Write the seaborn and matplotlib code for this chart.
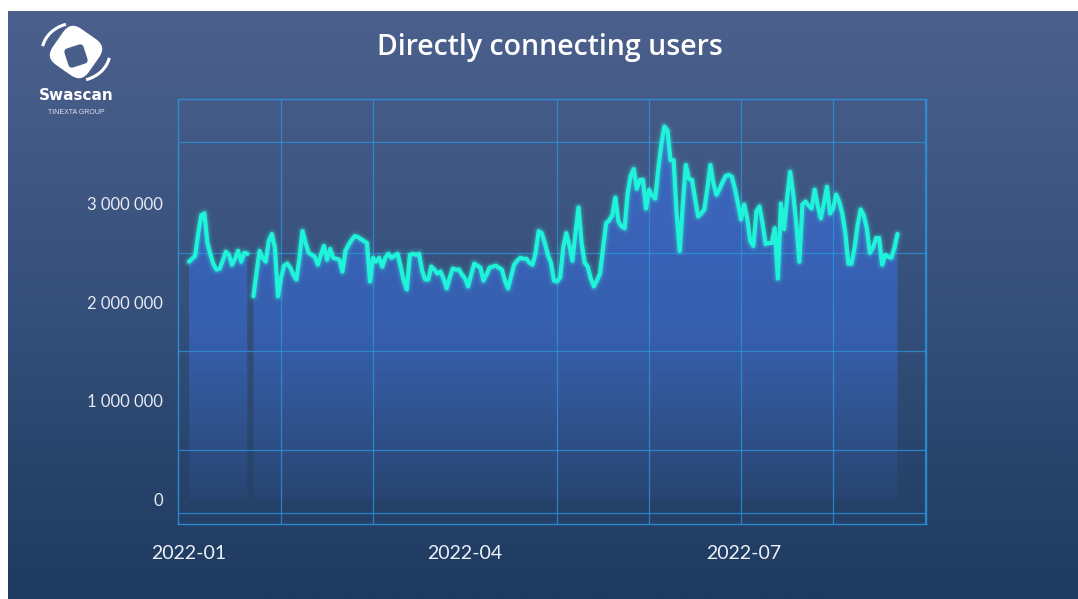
import numpy as np
import pandas as pd
import matplotlib
matplotlib.use("Agg")
import matplotlib.pyplot as plt
import matplotlib.dates as mdates
import matplotlib.ticker as mticker
from matplotlib.path import Path
from matplotlib.patches import FancyBboxPatch, Arc
from matplotlib.transforms import Affine2D
import seaborn as sns

# ---- data: daily directly-connecting users (millions), from 2022-01-01 ----
start_date = "2022-01-01"
users_mn = [
    2.41, 2.44, 2.47, 2.70, 2.88, 2.90, 2.60, 2.48, 2.38, 2.33,
    2.34, 2.42, 2.51, 2.48, 2.38, 2.44, 2.52, 2.41, 2.50, 2.49,
    np.nan, 2.06, 2.30, 2.52, 2.45, 2.41, 2.62, 2.69, 2.55, 2.06,
    2.25, 2.37, 2.39, 2.35, 2.28, 2.23, 2.45, 2.72, 2.60, 2.50,
    2.48, 2.46, 2.38, 2.48, 2.57, 2.43, 2.54, 2.45, 2.44, 2.43,
    2.31, 2.52, 2.58, 2.63, 2.67, 2.66, 2.64, 2.62, 2.60, 2.21,
    2.45, 2.41, 2.45, 2.36, 2.45, 2.49, 2.45, 2.47, 2.49, 2.36,
    2.22, 2.13, 2.48, 2.49, 2.48, 2.49, 2.32, 2.23, 2.23, 2.36,
    2.33, 2.29, 2.31, 2.24, 2.14, 2.25, 2.34, 2.33, 2.33, 2.28,
    2.24, 2.16, 2.28, 2.39, 2.37, 2.35, 2.22, 2.28, 2.35, 2.36,
    2.37, 2.35, 2.33, 2.22, 2.14, 2.26, 2.38, 2.42, 2.45, 2.44,
    2.44, 2.40, 2.38, 2.50, 2.72, 2.70, 2.60, 2.48, 2.40, 2.22,
    2.21, 2.25, 2.55, 2.70, 2.58, 2.42, 2.70, 2.96, 2.60, 2.40,
    2.36, 2.24, 2.16, 2.22, 2.29, 2.55, 2.80, 2.83, 2.88, 3.06,
    2.82, 2.77, 2.75, 3.10, 3.28, 3.35, 3.15, 3.24, 3.24, 2.95,
    3.14, 3.08, 3.05, 3.35, 3.60, 3.78, 3.74, 3.44, 3.44, 2.90,
    2.52, 3.00, 3.39, 3.25, 3.24, 3.05, 2.87, 2.90, 2.94, 3.15,
    3.39, 3.20, 3.09, 3.15, 3.22, 3.28, 3.29, 3.27, 3.15, 3.00,
    2.84, 2.99, 2.85, 2.62, 2.57, 2.92, 2.97, 2.80, 2.59, 2.60,
    2.60, 2.75, 2.24, 3.00, 2.74, 3.05, 3.32, 3.10, 2.80, 2.41,
    2.99, 3.02, 2.98, 2.95, 3.14, 2.98, 2.85, 3.00, 3.17, 2.90,
    2.95, 3.09, 3.02, 2.90, 2.70, 2.39, 2.39, 2.55, 2.78, 2.94,
    2.88, 2.75, 2.50, 2.55, 2.65, 2.65, 2.38, 2.48, 2.46, 2.45,
    2.55, 2.69,
]
x_tick_dates = ["2022-01-01", "2022-04-01", "2022-07-01"]
x_tick_labels = ["2022-01", "2022-04", "2022-07"]
y_ticks = [0, 1_000_000, 2_000_000, 3_000_000]
title = "Directly connecting users"

dates = pd.date_range(start_date, periods=len(users_mn), freq="D")
df = pd.DataFrame({"date": dates, "users": np.array(users_mn) * 1e6})

# ---- styling ----
sns.set_theme(style="dark")
plt.rcParams["font.family"] = ["Lato", "DejaVu Sans"]

W, H = 1078, 599
fig = plt.figure(figsize=(W / 100, H / 100), dpi=100, facecolor="white")

# gradient backdrop (white margin on the left and top)
bg = fig.add_axes([8 / W, 0, (W - 8) / W, (H - 11) / H])
bg.axis("off")
stops = np.array([[0x4c, 0x60, 0x8d], [0x35, 0x50, 0x7b], [0x1e, 0x3a, 0x5f]]) / 255
t = np.linspace(0, 1, 300)
cols = np.empty((300, 1, 3))
for k in range(3):
    cols[:, 0, k] = np.interp(t, [0, 0.5, 1], stops[:, k])
bg.imshow(cols, aspect="auto", extent=[0, 1, 0, 1], interpolation="bilinear")
bg.set_xlim(0, 1)
bg.set_ylim(0, 1)

# main plotting area
ax = fig.add_axes([178 / W, 1 - 524 / H, (926 - 178) / W, (524 - 99) / H])
ax.set_facecolor("none")
ax.patch.set_alpha(0)

t0 = mdates.date2num(pd.Timestamp(start_date))
xlim = (t0 - 3.6, t0 + 240.3)
ylim = (-0.25e6, 4.06e6)

# area fill with a vertical gradient clipped to the area under the curve
poly = ax.fill_between(df["date"], df["users"], 0, color="none", lw=0)
clip = Path.make_compound_path(*poly.get_paths())
n = 256
fill_rgba = np.zeros((n, 1, 4))
top_c = np.array([0x3d, 0x68, 0xc4]) / 255
bot_c = np.array([0x33, 0x5c, 0xa8]) / 255
s = np.linspace(0, 1, n)                      # 0 at top (3.9M), 1 at zero
for k in range(3):
    fill_rgba[:, 0, k] = top_c[k] * (1 - s) + bot_c[k] * s
fill_rgba[:, 0, 3] = np.interp(s, [0, 0.55, 1], [1.0, 0.92, 0.15])
im = ax.imshow(fill_rgba, aspect="auto", extent=[t0 - 5, t0 + 245, 0, 3.9e6],
               interpolation="bilinear", zorder=1)
im.set_clip_path(clip, transform=ax.transData)

# line with a soft glow, one segment per contiguous run of data
valid = df["users"].notna()
seg_id = (~valid).cumsum()
for _, seg in df[valid].groupby(seg_id[valid]):
    for lw, a in [(9, 0.05), (6.5, 0.10), (4.8, 0.18)]:
        ax.plot(seg["date"], seg["users"], color="#2ff5e0", lw=lw, alpha=a,
                solid_capstyle="round", solid_joinstyle="round", zorder=3)
    sns.lineplot(data=seg, x="date", y="users", ax=ax, color="#1ff3da",
                 lw=3.0, estimator=None, zorder=4)

ax.set_xlim(*xlim)
ax.set_ylim(*ylim)

# grid: vertical lines every 30 days, horizontal at fixed levels
grid_c = "#2b93da"
ax.xaxis.set_minor_locator(mticker.FixedLocator([t0 + 30 * k for k in range(9)]))
ax.yaxis.set_minor_locator(mticker.FixedLocator(
    [-0.14e6, 0.5e6, 1.0e6, 1.5e6, 2.0e6, 2.5e6, 3.0e6, 3.62e6]))
ax.grid(False, which="major")
ax.grid(True, which="minor", color=grid_c, lw=0.9, alpha=0.8)
ax.set_axisbelow(False)
for sp in ax.spines.values():
    sp.set_visible(True)
    sp.set_color(grid_c)
    sp.set_linewidth(1.0)
    sp.set_alpha(0.9)

ax.set_xticks([mdates.date2num(pd.Timestamp(d)) for d in x_tick_dates])
ax.set_xticklabels(x_tick_labels)
ax.set_yticks(y_ticks)
ax.yaxis.set_major_formatter(
    mticker.FuncFormatter(lambda v, _: f"{int(round(v)):,}".replace(",", " ")))
ax.tick_params(which="both", length=0)
ax.tick_params(axis="x", pad=15, labelsize=14, labelcolor="#eef1f7")
ax.tick_params(axis="y", pad=11, labelsize=12, labelcolor="#e6eaf3")
ax.set_xlabel("")
ax.set_ylabel("")

fig.text(549.5 / W, 1 - 47 / H, title, ha="center", va="center",
         fontsize=20.5, color="white", family=["Open Sans", "DejaVu Sans"],
         weight="semibold")

# brand mark in the top-left corner (pixel-space overlay)
ov = fig.add_axes([0, 0, 1, 1])
ov.set_xlim(0, W)
ov.set_ylim(H, 0)
ov.axis("off")
cx, cy = 76, 52
outer = FancyBboxPatch((cx - 22, cy - 22), 44, 44,
                       boxstyle="round,pad=0,rounding_size=13",
                       fc="white", ec="none",
                       transform=Affine2D().rotate_deg_around(cx, cy, 35) + ov.transData)
ov.add_patch(outer)
hx, hy = 76, 56
hole = FancyBboxPatch((hx - 10, hy - 10), 20, 20,
                      boxstyle="round,pad=0,rounding_size=4",
                      fc="#4a5e8a", ec="none",
                      transform=Affine2D().rotate_deg_around(hx, hy, -18) + ov.transData)
ov.add_patch(hole)
ov.add_patch(Arc((cx, cy), 68, 58, theta1=190, theta2=250, color="white", lw=2.2))
ov.add_patch(Arc((cx, cy), 68, 58, theta1=10, theta2=70, color="white", lw=2.2))
ov.text(76, 96, "Swascan", ha="center", va="center", fontsize=11, weight="bold",
        color="white", family="DejaVu Sans")
ov.text(76, 112, "TINEXTA GROUP", ha="center", va="center", fontsize=5,
        color="#dde2ee", family=["Liberation Sans", "DejaVu Sans"])

fig.savefig("out.png", dpi=100, facecolor="white")
